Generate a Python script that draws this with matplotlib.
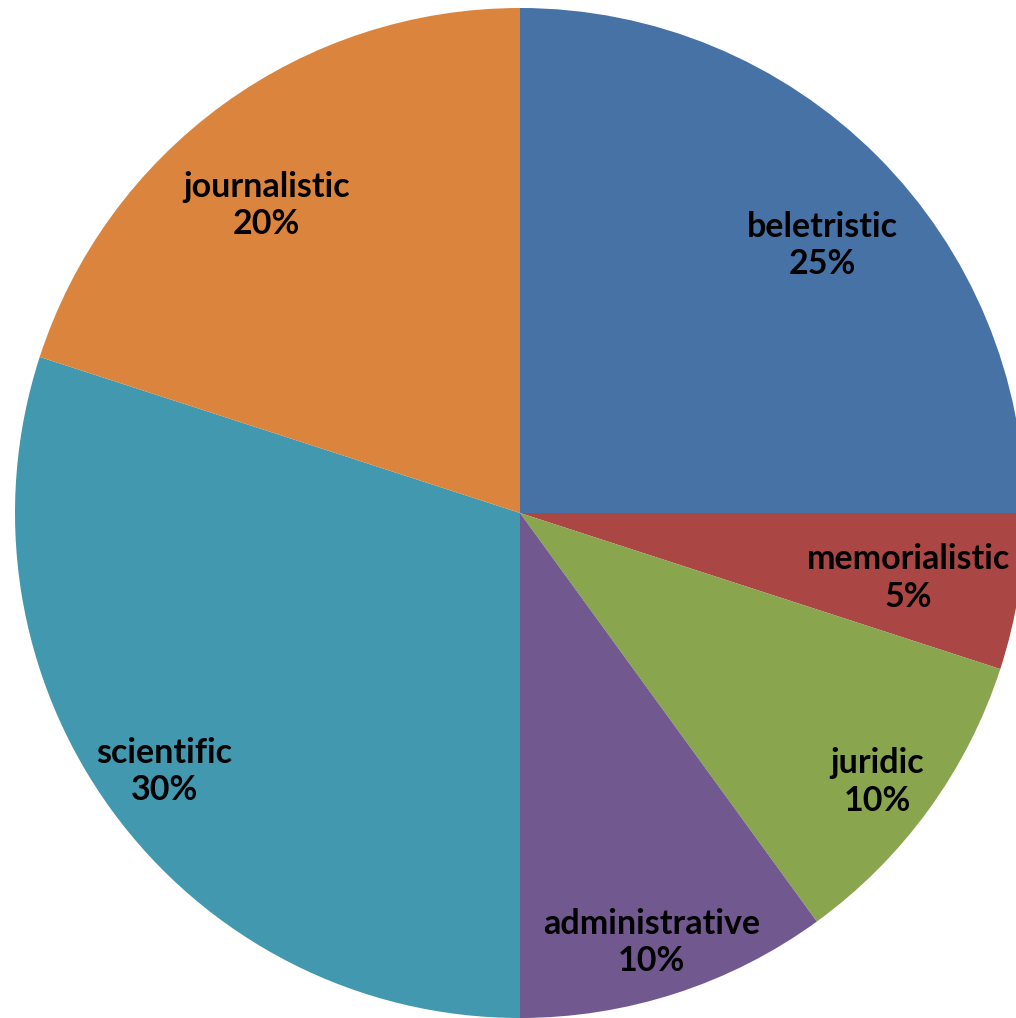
import numpy as np
import matplotlib.pyplot as plt

categories = ["beletristic", "memorialistic", "juridic", "administrative", "scientific", "journalistic"]
shares = [25, 5, 10, 10, 30, 20]
colors = ["#4672A6", "#AA4644", "#89A54E", "#71588F", "#4198AF", "#DB843D"]
label_dist = [0.80, 0.78, 0.885, 0.89, 0.87, 0.79]
label_shift = [-3.5, -0.5, -1.0, -1.0, 0.0, 3.5]  # degrees, nudge off mid angle

W, H = 1016, 1018
cx, cy, R = 520, 513, 505

fig = plt.figure(figsize=(W / 100, H / 100), dpi=100)
ax = fig.add_axes([0, 0, 1, 1])

wedges, _ = ax.pie(shares, colors=colors, startangle=90, counterclock=False,
                   radius=1, wedgeprops=dict(linewidth=0))

# place labels along each wedge's mid angle
for w, name, val, d, s in zip(wedges, categories, shares, label_dist, label_shift):
    ang = np.deg2rad((w.theta1 + w.theta2) / 2 + s)
    ax.text(d * np.cos(ang), d * np.sin(ang), f"{name}\n{val}%",
            ha="center", va="center", fontsize=24.5, fontweight="bold",
            family="Lato", linespacing=1.2, color="black")

ax.set_xlim(-cx / R, (W - cx) / R)
ax.set_ylim(-(H - cy) / R, cy / R)
ax.set_aspect("auto")
ax.axis("off")

fig.savefig("out.png", dpi=100)
